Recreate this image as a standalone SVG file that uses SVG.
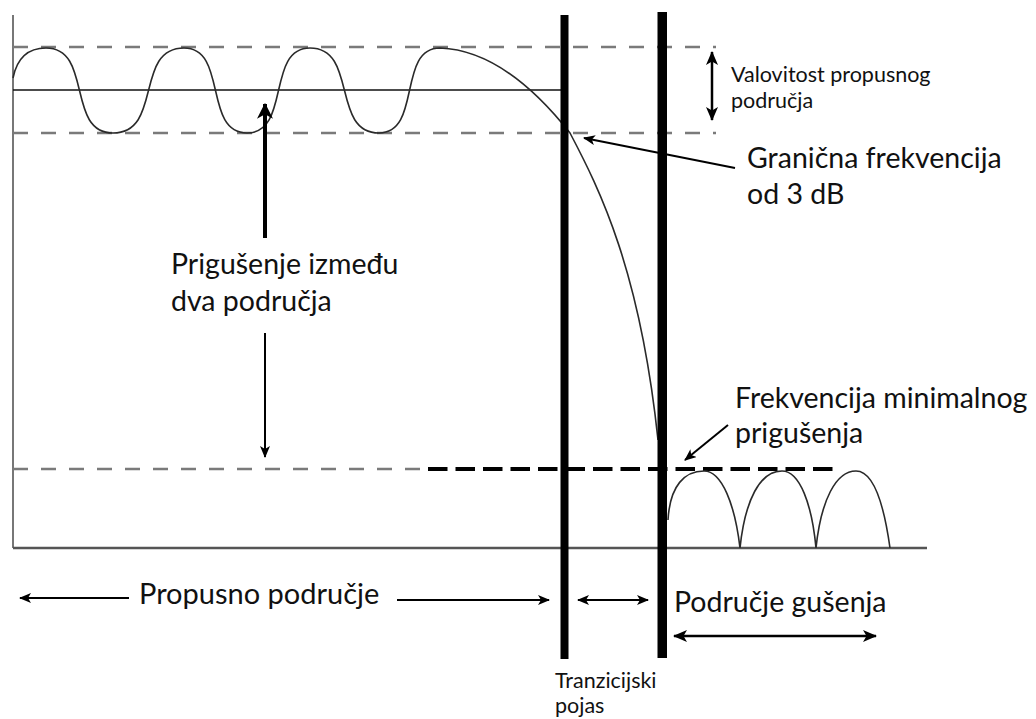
<svg xmlns="http://www.w3.org/2000/svg" width="1036" height="719" viewBox="0 0 1036 719">
<style>
.lbl{font-family:Lato,"Liberation Sans",sans-serif;fill:#111}
.big{font-size:28.5px}
.mid{font-size:21.5px}
.sm{font-size:21.5px}
.gdash{stroke:#7a7a7a;stroke-width:2.5;stroke-dasharray:15 13;fill:none}
.curve{stroke:#2a2a2a;stroke-width:1.6;fill:none}
.arr{stroke:#000;stroke-width:2;fill:none}
.bar{fill:#000}
</style>
<defs>
<marker id="ah" viewBox="0 0 12 10" refX="11" refY="5" markerWidth="12" markerHeight="10" orient="auto-start-reverse" markerUnits="userSpaceOnUse"><path d="M0,0 L12,5 L0,10 L3,5z" fill="#000"/></marker>
<marker id="ahm" viewBox="0 0 14 12" refX="13" refY="6" markerWidth="14" markerHeight="12" orient="auto-start-reverse" markerUnits="userSpaceOnUse"><path d="M0,0 L14,6 L0,12 L3.5,6z" fill="#000"/></marker>
<marker id="ahb" viewBox="0 0 14 14" refX="13" refY="7" markerWidth="16" markerHeight="16" orient="auto-start-reverse" markerUnits="userSpaceOnUse"><path d="M0,0 L14,7 L0,14 L4,7z" fill="#000"/></marker>
</defs>
<rect width="1036" height="719" fill="#fff"/>
<g id="axes">
<line x1="13" y1="15" x2="13" y2="548" stroke="#777" stroke-width="2"/>
<line x1="13" y1="548" x2="927" y2="548" stroke="#555" stroke-width="2.5"/>
</g>
<g id="guides">
<line class="gdash" x1="13" y1="47" x2="716" y2="47"/>
<line class="gdash" x1="13" y1="133" x2="716" y2="133"/>
<line x1="13" y1="90" x2="564" y2="90" stroke="#111" stroke-width="1.5"/>
<line class="gdash" x1="13" y1="469" x2="424" y2="469"/>
<line x1="428" y1="469" x2="835" y2="469" stroke="#000" stroke-width="4" stroke-dasharray="19.5 8"/>
</g>
<g id="response">
<path class="curve" d="M13,78 C17,58 28,48 46,48 C93,48 66,133 113,133 C163,133 134,48 184,48 C228,48 203,133 247,133 C291,133 266,48 310,48 C358,48 331,133 379,133 C422,133 397,48 440,48 C495,50 540,95 570,133 C600,190 640,270 658,440"/>
<path class="curve" d="M668,520 C670,485 685,471 704,471 C722,471 735,505 740,548 C745,500 760,471 782,471 C800,471 812,505 816,548 C821,500 836,471 856,471 C874,471 884,505 890,548"/>
</g>
<g id="bars">
<rect class="bar" x="560.5" y="15" width="8" height="644"/>
<rect class="bar" x="657.5" y="12" width="9.5" height="646"/>
</g>
<g id="connectors">
<line x1="712" y1="52" x2="712" y2="120" stroke="#000" stroke-width="2.5" marker-start="url(#ahm)" marker-end="url(#ahm)"/>
<line class="arr" x1="735" y1="168" x2="584" y2="138" marker-end="url(#ah)"/>
<line x1="265" y1="238" x2="265" y2="104" stroke="#000" stroke-width="4" marker-end="url(#ahb)"/>
<line class="arr" x1="265" y1="333" x2="265" y2="457" marker-end="url(#ah)"/>
<line class="arr" x1="728" y1="425" x2="685" y2="460" marker-end="url(#ah)"/>
<line class="arr" x1="129" y1="598" x2="20" y2="598" marker-end="url(#ah)"/>
<line class="arr" x1="397" y1="600" x2="549" y2="600" marker-end="url(#ah)"/>
<line class="arr" x1="578" y1="600" x2="648" y2="600" marker-start="url(#ah)" marker-end="url(#ah)"/>
<line x1="674" y1="636" x2="876" y2="636" stroke="#000" stroke-width="2.5" marker-start="url(#ahm)" marker-end="url(#ahm)"/>
</g>
<g id="label-ripple"><text class="lbl mid" x="731" y="82">Valovitost propusnog</text><text class="lbl mid" x="731" y="108">područja</text></g>
<g id="label-cutoff"><text class="lbl big" x="747" y="168">Granična frekvencija</text><text class="lbl big" x="747" y="204">od 3 dB</text></g>
<g id="label-atten"><text class="lbl big" x="171" y="274">Prigušenje između</text><text class="lbl big" x="171" y="311">dva područja</text></g>
<g id="label-minatt"><text class="lbl big" x="735" y="408">Frekvencija minimalnog</text><text class="lbl big" x="735" y="443">prigušenja</text></g>
<g id="label-pass"><text class="lbl big" x="139" y="604" style="font-size:29px">Propusno područje</text></g>
<g id="label-stop"><text class="lbl big" x="674" y="612">Područje gušenja</text></g>
<g id="label-trans"><text class="lbl sm" x="555" y="688">Tranzicijski</text><text class="lbl sm" x="555" y="713">pojas</text></g>
</svg>
